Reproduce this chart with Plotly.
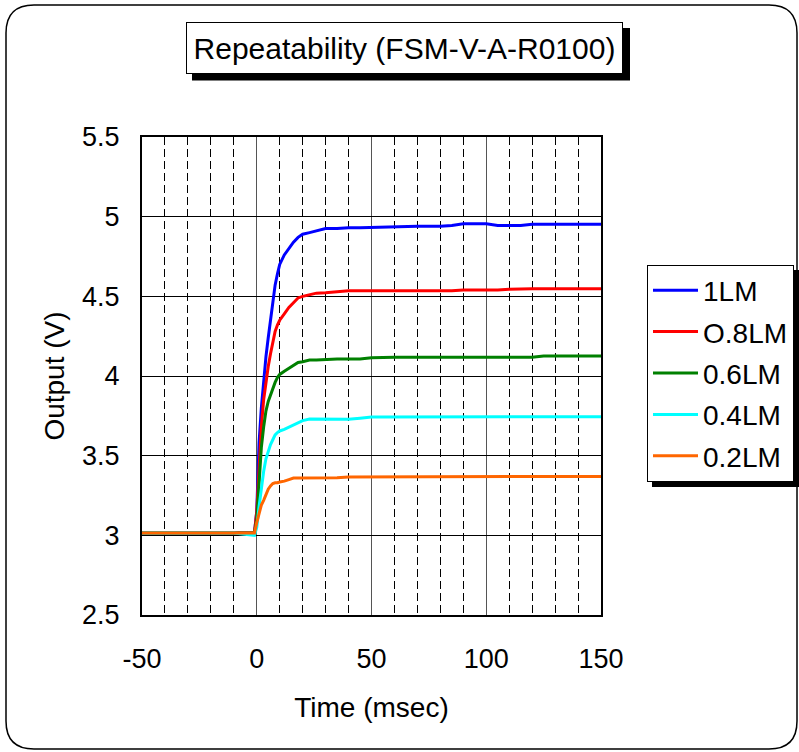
import plotly.graph_objects as go

# ---------------- data ----------------
time_ms = [-50, -40, -30, -20, -10, -1, 0, 1, 2, 3, 4, 5, 6, 7, 8, 9, 10, 12, 14, 16, 18, 20, 23, 26,
           30, 35, 40, 45, 50, 55, 60, 65, 70, 75, 80, 85, 90, 95, 100, 105, 110, 115, 120, 125,
           130, 135, 140, 145, 150]

v_1lm = [3.015, 3.015, 3.015, 3.015, 3.015, 3.015, 3.15, 3.58, 3.80, 3.98, 4.12, 4.24, 4.36, 4.48, 4.57,
         4.64, 4.70, 4.76, 4.80, 4.84, 4.87, 4.89, 4.90, 4.91,
         4.925, 4.925, 4.93, 4.93, 4.932, 4.935, 4.94, 4.94, 4.94, 4.94, 4.94, 4.945, 4.955, 4.955,
         4.955, 4.945, 4.945, 4.945, 4.953, 4.953, 4.953, 4.953, 4.953, 4.953, 4.953]

v_08lm = [3.015, 3.015, 3.015, 3.015, 3.015, 3.015, 3.15, 3.45, 3.68, 3.85, 3.96, 4.06, 4.14, 4.22, 4.28,
          4.32, 4.35, 4.39, 4.43, 4.46, 4.49, 4.50, 4.51, 4.52,
          4.523, 4.528, 4.535, 4.535, 4.535, 4.535, 4.535, 4.535, 4.535, 4.535, 4.535, 4.535, 4.54, 4.54,
          4.54, 4.54, 4.545, 4.548, 4.548, 4.548, 4.548, 4.548, 4.548, 4.548, 4.548]

v_06lm = [3.015, 3.015, 3.015, 3.015, 3.015, 3.015, 3.10, 3.35, 3.55, 3.68, 3.78, 3.84, 3.88, 3.93, 3.96,
          3.99, 4.01, 4.03, 4.05, 4.07, 4.085, 4.09, 4.10, 4.10,
          4.105, 4.107, 4.107, 4.107, 4.115, 4.118, 4.118, 4.118, 4.118, 4.118, 4.118, 4.118, 4.118, 4.118,
          4.118, 4.118, 4.118, 4.118, 4.118, 4.126, 4.126, 4.126, 4.126, 4.126, 4.126]

v_04lm = [3.015, 3.015, 3.015, 3.015, 3.015, 3.00, 3.05, 3.18, 3.30, 3.40, 3.48, 3.53, 3.57, 3.60, 3.63,
          3.645, 3.655, 3.665, 3.68, 3.695, 3.71, 3.72, 3.73, 3.73,
          3.73, 3.729, 3.729, 3.735, 3.742, 3.742, 3.742, 3.742, 3.742, 3.742, 3.742, 3.742, 3.742, 3.742,
          3.742, 3.742, 3.742, 3.742, 3.742, 3.742, 3.742, 3.742, 3.742, 3.745, 3.745]

v_02lm = [3.015, 3.015, 3.015, 3.015, 3.015, 3.015, 3.08, 3.14, 3.19, 3.22, 3.26, 3.29, 3.31, 3.325, 3.33,
          3.33, 3.335, 3.34, 3.35, 3.36, 3.36, 3.36, 3.36, 3.36,
          3.36, 3.362, 3.366, 3.366, 3.366, 3.368, 3.37, 3.37, 3.37, 3.37, 3.37, 3.37, 3.37, 3.37,
          3.37, 3.37, 3.37, 3.37, 3.37, 3.37, 3.37, 3.37, 3.37, 3.37, 3.37]

series_names = ["1LM", "O.8LM", "0.6LM", "0.4LM", "0.2LM"]
series_values = [v_1lm, v_08lm, v_06lm, v_04lm, v_02lm]
series_colors = ["#0000FF", "#FF0000", "#008000", "#00FFFF", "#FF6600"]

x_tickvals = [-50, 0, 50, 100, 150]
x_ticktext = ["-50", "0", "50", "100", "150"]

title_text = "Repeatability (FSM-V-A-R0100)"
x_title = "Time (msec)"
y_title = "Output (V)"

# ---------------- layout geometry (pixels) ----------------
W, H = 799, 752
PL, PR, PT, PB = 142, 601, 137, 615   # plot area edges


def px(x):
    return (x - PL) / (PR - PL)


def py(y):
    return (PB - y) / (PB - PT)


FONT = "Liberation Sans, Arial, sans-serif"

fig = go.Figure()
for name, vals, col in zip(series_names, series_values, series_colors):
    fig.add_trace(go.Scatter(x=time_ms, y=vals, mode="lines", name=name,
                             legendgroup=name,
                             line=dict(color=col, width=3)))

# outer rounded frame
L, T, R, B, r = 6, 5, 797, 749, 28
path = (f"M {px(L+r)},{py(T)} L {px(R-r)},{py(T)} Q {px(R)},{py(T)} {px(R)},{py(T+r)} "
        f"L {px(R)},{py(B-r)} Q {px(R)},{py(B)} {px(R-r)},{py(B)} "
        f"L {px(L+r)},{py(B)} Q {px(L)},{py(B)} {px(L)},{py(B-r)} "
        f"L {px(L)},{py(T+r)} Q {px(L)},{py(T)} {px(L+r)},{py(T)} Z")
shapes = [
    dict(type="path", xref="paper", yref="paper", path=path,
         line=dict(color="black", width=1.5), fillcolor="rgba(0,0,0,0)", layer="below"),
    # title shadow
    dict(type="rect", xref="paper", yref="paper", x0=px(192), x1=px(630), y0=py(28), y1=py(80.5),
         fillcolor="black", line=dict(width=0), layer="above"),
    # legend shadow
    dict(type="rect", xref="paper", yref="paper", x0=px(652), x1=px(805), y0=py(270), y1=py(487),
         fillcolor="black", line=dict(width=0), layer="above"),
]

annotations = [
    dict(text=title_text, xref="paper", yref="paper", x=px(404.5), y=py(47.5),
         xanchor="center", yanchor="middle", showarrow=False,
         width=435, height=50, bgcolor="white", bordercolor="black", borderwidth=1, borderpad=0,
         font=dict(family=FONT, size=30, color="black")),
]

fig.update_layout(
    width=W, height=H,
    margin=dict(l=PL, r=W - PR, t=PT, b=H - PB, autoexpand=False),
    paper_bgcolor="white", plot_bgcolor="white",
    font=dict(family=FONT, size=27, color="black"),
    showlegend=True,
    legend=dict(x=px(647), y=py(264.5), xanchor="left", yanchor="top",
                bgcolor="white", bordercolor="black", borderwidth=1,
                font=dict(family=FONT, size=28, color="black"),
                traceorder="grouped", tracegroupgap=2, itemwidth=45),
    shapes=shapes,
    annotations=annotations,
    xaxis=dict(range=[-50, 150], tickvals=x_tickvals, ticktext=x_ticktext,
               showgrid=True, gridcolor="#555555", gridwidth=1,
               showline=True, linecolor="black", linewidth=2, mirror=True,
               zeroline=False, ticks="", ticklabelstandoff=19,
               tickfont=dict(family=FONT, size=27),
               minor=dict(dtick=10, tick0=0, showgrid=True, gridcolor="black", gridwidth=1,
                          griddash="8px,4px"),
               title=dict(text=x_title, font=dict(family=FONT, size=28), standoff=24)),
    yaxis=dict(range=[2.5, 5.5], dtick=0.5, tick0=2.5, showgrid=True, gridcolor="black", gridwidth=1,
               showline=True, linecolor="black", linewidth=2, mirror=True,
               zeroline=False, ticks="", ticklabelstandoff=15,
               tickfont=dict(family=FONT, size=27),
               title=dict(text=y_title, font=dict(family=FONT, size=28), standoff=9)),
)

fig.write_html("out.html", config={"displayModeBar": False},
               post_script="document.body.style.margin='0px';document.body.style.overflow='hidden';")
